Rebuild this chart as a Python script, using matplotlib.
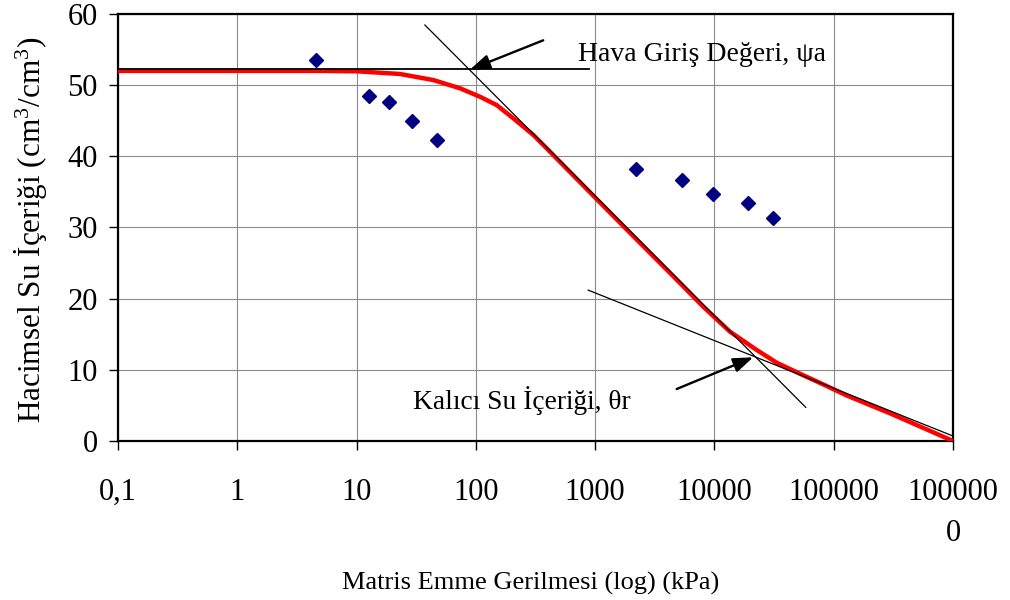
import matplotlib
matplotlib.use("Agg")
import matplotlib.pyplot as plt
from matplotlib.ticker import FixedLocator, FixedFormatter, NullLocator

plt.rcParams['font.family'] = ['Liberation Serif', 'DejaVu Serif']
plt.rcParams['mathtext.fontset'] = 'custom'
plt.rcParams['mathtext.rm'] = 'Liberation Serif'
plt.rcParams['mathtext.it'] = 'Liberation Serif:italic'

# Fitted soil-water characteristic curve (suction in kPa, volumetric water content in %)
suction_kpa = [0.1, 1, 5, 10, 23.1, 43.9, 73.6, 108, 149, 206, 303, 418, 1000,
               2000, 5000, 8054, 13490, 22590, 33230, 52100, 81700, 128300, 300000, 1000000]
theta_fit = [52.0, 52.0, 52.0, 51.95, 51.57, 50.72, 49.56, 48.38, 47.21, 45.34, 43.0, 40.65,
             34.2, 29.1, 22.4, 18.87, 15.36, 12.79, 11.0, 9.45, 7.95, 6.4, 3.85, 0.0]

# Measured points
meas_suction = [4.6, 12.6, 18.6, 29.0, 46.9, 2200, 5350, 9660, 19100, 31100]
meas_theta = [53.6, 48.5, 47.6, 44.9, 42.3, 38.2, 36.7, 34.7, 33.4, 31.3]

# Construction lines
aev_line_x = [0.1, 887]
aev_line_y = [52.2, 52.2]
steep_line_x = [37.4, 58250]
steep_line_y = [58.45, 4.73]
resid_line_x = [875, 1000000]
resid_line_y = [21.2, 0.7]

# Axis ticks
x_ticks = [0.1, 1, 10, 100, 1000, 10000, 100000, 1000000]
x_tick_labels = ["0,1", "1", "10", "100", "1000", "10000", "100000", "100000\n0"]
y_ticks = [0, 10, 20, 30, 40, 50, 60]

fig = plt.figure(figsize=(10.1, 6.0), dpi=100)
ax = fig.add_axes([0.1168, 0.265, 0.8268, 0.7117])

ax.set_xscale('log')
ax.set_xlim(0.1, 1000000)
ax.set_ylim(0, 60)

ax.plot(suction_kpa, theta_fit, color='#ff0000', lw=3.2, solid_capstyle='round',
        solid_joinstyle='round', zorder=3)
ax.plot(aev_line_x, aev_line_y, color='black', lw=1.3, zorder=4)
ax.plot(steep_line_x, steep_line_y, color='black', lw=0.9, zorder=4)
ax.plot(resid_line_x, resid_line_y, color='black', lw=0.9, zorder=4)
ax.plot(meas_suction, meas_theta, linestyle='none', marker='D', ms=7.6,
        color='#000080', zorder=5)

arrow_style = dict(arrowstyle='-|>,head_length=0.6,head_width=0.22', color='black',
                   lw=1.7, shrinkA=0, shrinkB=0, mutation_scale=20)
ax.annotate('', xy=(89.4, 52.2), xytext=(367, 56.3), arrowprops=arrow_style, zorder=6)
ax.annotate('', xy=(21130, 11.76), xytext=(4820, 7.3), arrowprops=arrow_style, zorder=6)

ax.text(713, 53.4, 'Hava Giriş Değeri, ψa', fontsize=20, ha='left', va='baseline')
ax.text(29.7, 4.45, 'Kalıcı Su İçeriği, θr', fontsize=19.8, ha='left', va='baseline')

ax.xaxis.set_major_locator(FixedLocator(x_ticks))
ax.xaxis.set_major_formatter(FixedFormatter(x_tick_labels))
ax.xaxis.set_minor_locator(NullLocator())
ax.yaxis.set_major_locator(FixedLocator(y_ticks))

ax.grid(True, which='major', color='#8c8c8c', lw=0.8)
ax.set_axisbelow(True)

ax.tick_params(axis='both', direction='out', length=6.5, width=1, labelsize=22, color='black')
ax.tick_params(axis='x', pad=20)
ax.tick_params(axis='y', pad=8)
for lbl in ax.get_xticklabels():
    lbl.set_linespacing(1.55)
    lbl.set_verticalalignment('top')

for sp in ax.spines.values():
    sp.set_linewidth(1.6)
    sp.set_color('black')

ax.set_ylabel('Hacimsel Su İçeriği (cm$^{3}$/cm$^{3}$)', fontsize=22.5)
ax.yaxis.set_label_coords(-0.083, 0.494)
fig.text(0.525, 0.018, 'Matris Emme Gerilmesi (log) (kPa)', fontsize=19, ha='center', va='baseline')

fig.savefig('out.png', dpi=100, facecolor='white')
